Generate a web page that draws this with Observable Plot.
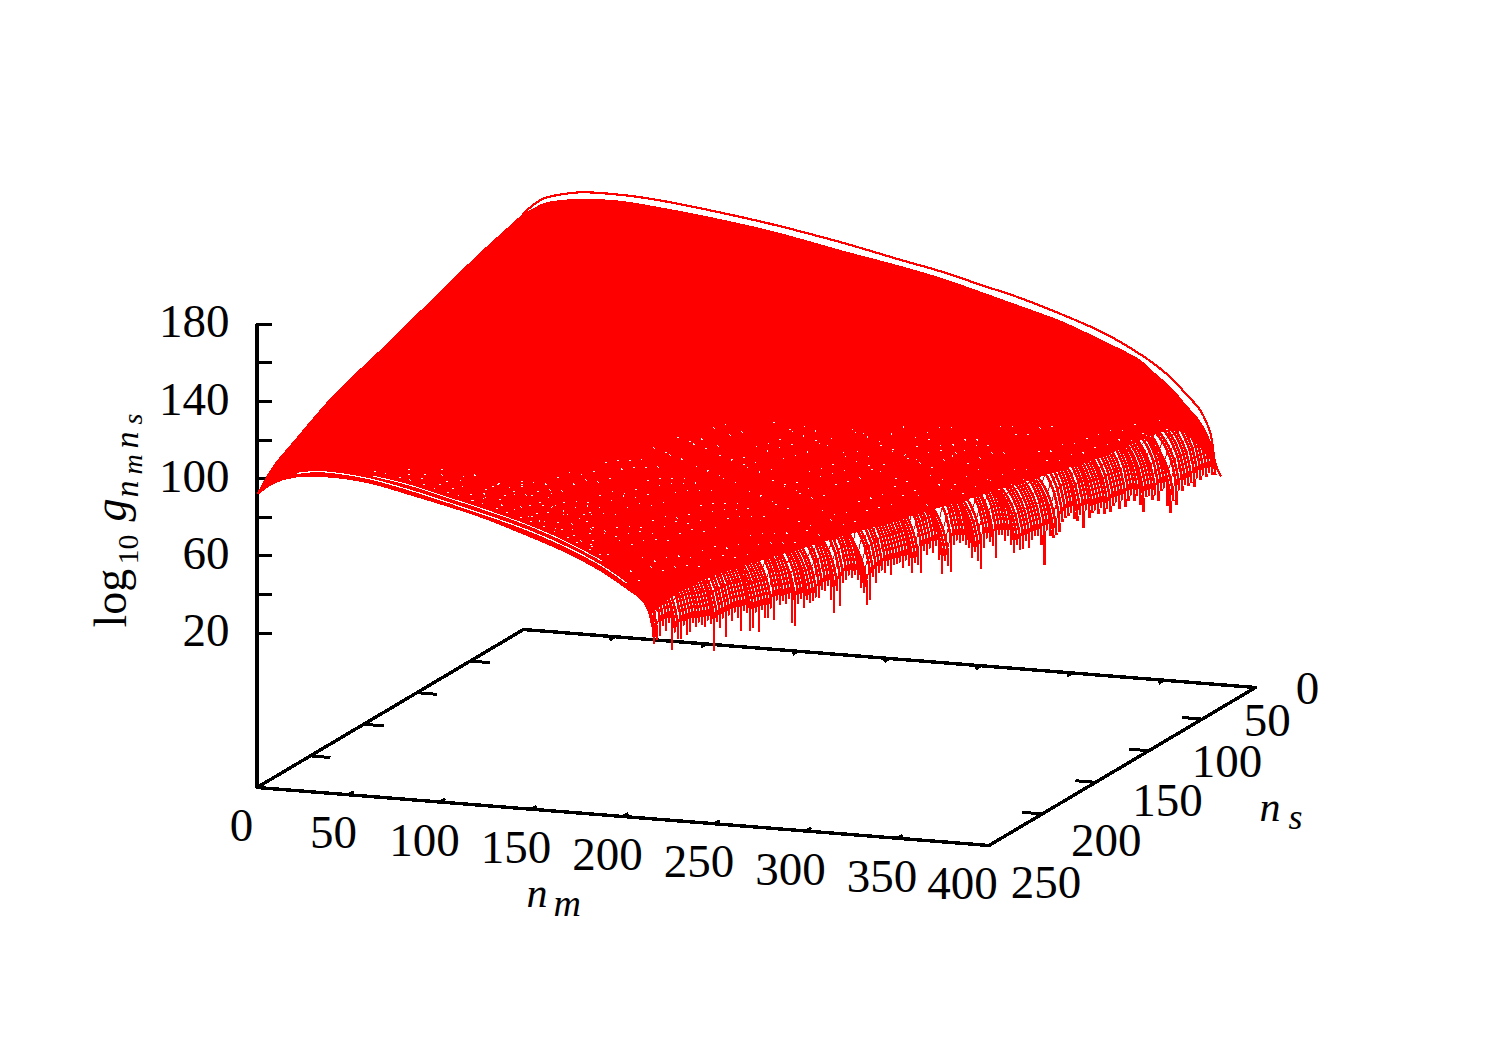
<!DOCTYPE html>
<html><head><meta charset="utf-8">
<style>html,body{margin:0;padding:0;background:#fff;overflow:hidden}svg{display:block}</style>
<script src="https://cdn.jsdelivr.net/npm/d3@7"></script>
<script src="https://cdn.jsdelivr.net/npm/@observablehq/plot@0.6"></script>
</head><body><div id="chart"></div>
<script>
// axis ticks
const nmTicks=[0,50,100,150,200,250,300,350,400];
const nsTicks=[0,50,100,150,200,250];
const zTicks=[20,40,60,80,100,120,140,160,180];
const zLabels=[20,60,100,140,180];
// ns = 0 curve (outermost line at the back)
const topNm=[0,3.8,10.9,20.2,31.1,40.4,56.8,74.9,96.7,135,173.2,206,227.9,249.7,271.6,293.4,315.3,326.2,337.2,344.3,353.6,362.8,369.9,375.4,378.1,380.9];
const topZ=[155.3,159.1,164.1,166.9,168.9,169.3,169.1,167.9,165.5,160.3,153.7,147,142.7,137.4,132.1,125.6,118.2,113.4,107.8,103.7,97.1,88.5,81.2,69.7,54.4,48.4];
// ns = 3 curve: upper edge of the solid surface
const nextNm=[1.7,5.6,12.7,22,31.3,45.5,58.6,76.6,98.5,136.7,175,207.8,229.6,251.5,273.3,295.2,317,338.9,346,355.3,364.6,370,375.5,378.2];
const nextZ=[156.6,158.5,162.6,164.9,166.1,167,166.8,165.2,162.9,157.7,150.5,144.7,140.3,134.7,128.9,122.9,114.9,105.8,100.2,93.1,83.4,75.5,65.6,56.9];
// nm = 0 edge
const leftNs=[249.8,234.2,218.6,202.9,181,162.3,131,102.9,90.3,45,0];
const leftZ=[92.1,101.7,106.9,112.1,118.8,123.1,129.2,135.5,137.7,147.5,155.5];
// ns = 250 curve (front)
const frontNm=[0.5,9.3,20.2,33.3,49.7,63.9,82.5,100.5,122.4,144.3,166.1,188,201.6,209.8,215.3,217.5];
const frontZ=[92.4,98.7,102.6,104,103.8,102.3,98.5,94.7,89.6,83,75.8,66.6,58.8,53.7,46.3,35];
// the two thin unfilled strips just behind the front curve
const stripAnm=[22.4,33.3,49.7,63.9,82.5,100.5,118.6,144.3,166.1,188,201.6];
const stripAz=[104.5,106.2,105.8,104.2,100.6,96.5,92.1,85.5,78.4,69.2,61.3];
const stripBnm=[63.9,82.5,100.5,118.6,144.3,166.1,188];
const stripBz=[106,103.1,98.9,94.7,88.1,81,71.8];
// lower limit of the part of the surface where no gaps show
const solidNs=[16,51.7,96.2,140.8,185.5,207.7,230,247.8];
const solidNm=[367.7,344.7,316,287.4,258.5,244.2,230,218.4];
const solidZ=[76,72,68,65,62,60.5,57.5,50];
// end of each curve, read along the jagged lower edge from ns = 250 to ns = 0
const tipZ=[30.9,32.1,34.3,39.1,36.1,39.9,25.1,34,30.5,30.1,36.5,31,32.2,36.9,34,36.2,34.3,32.9,36.1,33.7,
19.8,34,30.5,35.3,25.1,36.1,33.1,36.9,33.9,26.8,36.8,34.9,25.7,26.4,34.3,23.6,34.6,30.1,29.7,34.5,
28.4,37.9,35,37.1,35.2,37.4,24.6,22.7,33.7,35.9,30.9,34.2,32.3,33.4,34.6,34.2,37.5,37.1,39.3,31.2,
24.1,35.6,27,39,39.7,41.9,40,41.2,38.2,33.7,31.2,24.6,26.4,37.9,34.4,39.7,40.4,38.5,42.2,36.7,
41.5,42.1,42.3,39.3,42.6,39.6,35.6,40.4,38.5,34,45.5,42.6,45.8,43.3,46.6,38.5,30.9,37.7,34.7,30.8,
44.4,46.6,44.7,45.8,42.9,41,35.9,38.2,33.6,28.6,39.1,43.9,41.5,39.5,32.9,44,43.6,40.6,42.8,37.3,
32.8,36.6,33.6,34.2,38,34,37.3,39,39.1,33.6,23.3,40.6,37.6,36.2,36.9,38.1,42.9,44.6,45.7,46.9,
43.4,42,44.3,37.6,46.1,41.6,44.3,45,43,45.3,42.3,44.5,42.1,45.3,46.5,43,46.8,43.3,46,48.3,
45.3,47.5,42,38,45.4,46,43.1,45.3,42.3,47.1,47.8,38.6,34.6,40.4,38,44.9,44.5,46.8,46.3,47.5,
44.6,48.9,47.5,49.7,48.3,50,48.6,48.2];
// last stretch of a curve, as offsets from its end (read from the ns = 0 curve and the arcs in the lower region)
const tailNm=[0,-0.2,-0.4,-0.8,-1.4,-2,-2.7,-3.7,-4.8,-6.1,-7.7,-9.6,-11.7,-14.5,-17.5,-21,-25,-30.6,-38.3,-49.2,-62.8,-79.2,-98.4];
const tailZ=[0,2.6,5.2,7.7,10.3,12.8,15.3,17.9,20.4,22.9,25.3,27.8,30.2,32.6,35,37.3,39.6,41.8,44.8,49.2,54.4,59.8,66.2];

// parallel view of the gnuplot box
const px=(nm,ns)=>523+1.83*nm-1.066*ns;
const py=(nm,ns,z)=>629+0.145*nm+0.632*ns-1.93*(z+60);
const P=(nm,ns,z)=>({x:px(nm,ns),y:py(nm,ns,z)});
const RED="#ff0000";

const backCurve=topNm.map((m,i)=>P(m,0,topZ[i]));
const nextCurve=nextNm.map((m,i)=>P(m,3,nextZ[i]));
const leftEdge=leftNs.map((s,i)=>P(0,s,leftZ[i]));
const frontCurve=frontNm.map((m,i)=>P(m,250,frontZ[i]));
const stripA=stripAnm.map((m,i)=>P(m,250,stripAz[i]));
const stripB=stripBnm.map((m,i)=>P(m,250,stripBz[i]));
const solidEdge=solidNs.map((s,i)=>P(solidNm[i],s,solidZ[i]));
const surface=[...leftEdge,...nextCurve,...solidEdge,...frontCurve.slice(0,15).reverse()];

const nTips=tipZ.length;
const tips=tipZ.map((z,k)=>{
  const ns=250-k*250/(nTips-1), nm=217+161*k/(nTips-1);
  const anchor=d3.max(tipZ.slice(Math.max(0,k-1),k+2));
  return {k,ns,nm,z,anchor};
});
const arcs=tips.flatMap(t=>[
  {k:t.k,...P(t.nm,t.ns,t.z)},
  ...tailNm.map((dm,j)=>({k:t.k,j,...P(t.nm+dm,t.ns,t.anchor+tailZ[j])}))
]);
const rungs=arcs.filter(d=>d.j>0&&d.j<=12&&d.j%2===0);
const closedArcs=arcs.filter(d=>d.j>=13);
// sparse pin-holes that follow the curves higher on the surface and the rows behind the front curve
const specks=arcs.filter(d=>d.k%4===1&&d.j>=11&&d.y>418);
const frontRow=i=>stripB.map((d,q)=>({nm:stripBnm[q],...P(stripBnm[q],250,stripBz[q]+i*2.7)})).filter(d=>d.nm>52+(i-1)*12);

const floorBox=[[0,0],[400,0],[400,250],[0,250],[0,0]].map(([m,s])=>P(m,s,-60));
const zAxis=[P(0,250,-60),P(0,250,180)];
const tickLinks=[
  ...zTicks.map(z=>{const a=P(0,250,z);return {x1:a.x,y1:a.y,x2:a.x+15,y2:a.y};}),
  ...nsTicks.slice(1,-1).flatMap(s=>{const a=P(0,s,-60),b=P(11,s,-60),c=P(400,s,-60),d=P(389,s,-60);
    return [{x1:a.x,y1:a.y,x2:b.x,y2:b.y},{x1:c.x,y1:c.y,x2:d.x,y2:d.y}];}),
  ...nmTicks.slice(1,-1).flatMap(m=>{const a=P(m,250,-60),b=P(m,245,-60),c=P(m,0,-60),d=P(m,5,-60);
    return [{x1:a.x,y1:a.y,x2:b.x,y2:b.y},{x1:c.x,y1:c.y,x2:d.x,y2:d.y}];})
];

const F="'Liberation Serif',serif";
const nmOff={0:-15,50:-14.5,100:-15,150:-15,200:-15,250:-15,300:-15,350:-15,400:-26};
const nsOff={0:[52,1],50:[65,1.5],100:[78,11],150:[72,19],200:[64,27],250:[57,37]};
const nmLab=nmTicks.map(m=>{const a=P(m,250,-60);return {t:String(m),x:a.x+nmOff[m]-0.5,y:a.y+38.5};});
const nsLab=nsTicks.map(s=>{const a=P(400,s,-60);return {t:String(s),x:a.x+nsOff[s][0],y:a.y+nsOff[s][1]};});
const zLab=zLabels.map(z=>{const a=P(0,250,z);return {t:String(z),x:229,y:a.y-2};});

const textAt=(rows,o)=>Plot.text(rows,{x:"x",y:"y",text:"t",fontFamily:F,fill:"#000",...o});
const crisp={shapeRendering:"crispEdges"};

const chart=Plot.plot({
  width:1508,height:1058,margin:0,
  x:{domain:[0,1508],range:[0,1508],axis:null},
  y:{domain:[0,1058],range:[0,1058],axis:null},
  style:{background:"#fff"},
  marks:[
    Plot.line(floorBox,{x:"x",y:"y",stroke:"#000",strokeWidth:3.4,...crisp}),
    Plot.line(zAxis,{x:"x",y:"y",stroke:"#000",strokeWidth:3.4,...crisp}),
    Plot.link(tickLinks,{x1:"x1",y1:"y1",x2:"x2",y2:"y2",stroke:"#000",strokeWidth:3,...crisp}),
    Plot.line(surface,{x:"x",y:"y",fill:RED,stroke:RED,strokeWidth:1,curve:"catmull-rom",...crisp}),
    Plot.line(arcs,{x:"x",y:"y",z:"k",stroke:RED,strokeWidth:2.6,strokeLinecap:"butt",curve:"linear",...crisp}),
    Plot.line(closedArcs,{x:"x",y:"y",z:"k",stroke:RED,strokeWidth:3.6,strokeLinecap:"butt",curve:"linear",...crisp}),
    Plot.line(rungs,{x:"x",y:"y",z:"j",stroke:RED,strokeWidth:1,curve:"linear",...crisp}),
    Plot.line(specks,{x:"x",y:"y",z:"k",stroke:"#fff",strokeWidth:1,strokeDasharray:"1.5 11 1.5 27 1.5 16",strokeLinecap:"butt",...crisp}),
    Plot.line(frontCurve,{x:"x",y:"y",stroke:RED,strokeWidth:2.2,curve:"catmull-rom",...crisp}),
    ...d3.range(1,9).map(i=>Plot.line(frontRow(i),{x:"x",y:"y",stroke:"#fff",strokeWidth:1,strokeDasharray:`2 ${6+i*3} 1.5 ${9+i*4}`,strokeLinecap:"butt",curve:"catmull-rom",...crisp})),
    Plot.line(stripA,{x:"x",y:"y",stroke:"#fff",strokeWidth:1.2,curve:"catmull-rom",...crisp}),
    Plot.line(stripB,{x:"x",y:"y",stroke:"#fff",strokeWidth:1,curve:"catmull-rom",...crisp}),
    Plot.line(backCurve,{x:"x",y:"y",stroke:RED,strokeWidth:2.2,curve:"catmull-rom",...crisp}),
    textAt(zLab,{fontSize:47,textAnchor:"end"}),
    textAt(nmLab,{fontSize:47,textAnchor:"middle"}),
    textAt(nsLab,{fontSize:47,textAnchor:"middle"}),
    // axis titles
    textAt([{t:"n",x:526,y:906}],{fontSize:42,fontStyle:"italic",textAnchor:"start",lineAnchor:"bottom"}),
    textAt([{t:"m",x:553,y:915}],{fontSize:38,fontStyle:"italic",textAnchor:"start",lineAnchor:"bottom"}),
    textAt([{t:"n",x:1259,y:820}],{fontSize:42,fontStyle:"italic",textAnchor:"start",lineAnchor:"bottom"}),
    textAt([{t:"s",x:1288,y:828}],{fontSize:36,fontStyle:"italic",textAnchor:"start",lineAnchor:"bottom"}),
    textAt([{t:"log",x:125,y:627}],{fontSize:46,rotate:-90,textAnchor:"start",lineAnchor:"bottom"}),
    textAt([{t:"10",x:137,y:564}],{fontSize:30,rotate:-90,textAnchor:"start",lineAnchor:"bottom"}),
    textAt([{t:"g",x:125,y:521}],{fontSize:46,fontStyle:"italic",rotate:-90,textAnchor:"start",lineAnchor:"bottom"}),
    textAt([{t:"n",x:137,y:497}],{fontSize:34,fontStyle:"italic",rotate:-90,textAnchor:"start",lineAnchor:"bottom"}),
    textAt([{t:"m",x:141,y:474}],{fontSize:28,fontStyle:"italic",rotate:-90,textAnchor:"start",lineAnchor:"bottom"}),
    textAt([{t:"n",x:137,y:448}],{fontSize:34,fontStyle:"italic",rotate:-90,textAnchor:"start",lineAnchor:"bottom"}),
    textAt([{t:"s",x:141,y:424}],{fontSize:28,fontStyle:"italic",rotate:-90,textAnchor:"start",lineAnchor:"bottom"})
  ]
});
document.getElementById("chart").appendChild(chart);
</script></body></html>
